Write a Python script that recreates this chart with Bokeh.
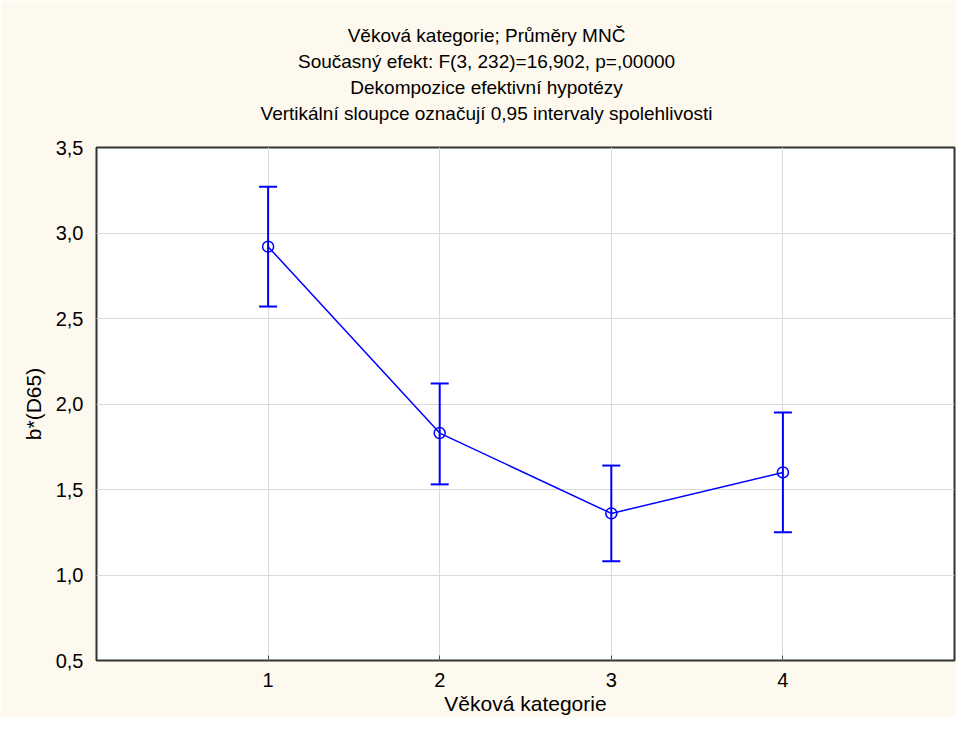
from bokeh.plotting import figure
from bokeh.models import (ColumnDataSource, Whisker, TeeHead, Range1d, FixedTicker,
                          CustomJSTickFormatter, Title)
from bokeh.embed import file_html
from bokeh.resources import INLINE

# ---- data ----
categories = [1, 2, 3, 4]
means = [2.92, 1.83, 1.36, 1.60]
lower = [2.57, 1.53, 1.08, 1.25]
upper = [3.27, 2.12, 1.64, 1.95]
y_ticks = [0.5, 1.0, 1.5, 2.0, 2.5, 3.0, 3.5]
x_ticks = [1, 2, 3, 4]
title_lines = [
    "Věková kategorie; Průměry MNČ",
    "Současný efekt: F(3, 232)=16,902, p=,00000",
    "Dekompozice efektivní hypotézy",
    "Vertikální sloupce označují 0,95 intervaly spolehlivosti",
]
x_label = "Věková kategorie"
y_label = "b*(D65)"

FONT = "Liberation Sans"
BLUE = "#0000FF"
CREAM = "#FEF9EE"
TITLE_PX = 19
TITLE_CENTER = 486

W, H = 956, 717
ML, MT, MR, MB = 96, 147, 2, 57


def text_width(txt, size):
    try:
        from PIL import ImageFont
        f = ImageFont.truetype("LiberationSans-Regular.ttf", size)
        return f.getlength(txt)
    except Exception:
        return len(txt) * size * 0.45


p = figure(width=W, height=H, output_backend="svg", toolbar_location=None,
           x_range=Range1d(0, 5), y_range=Range1d(0.5, 3.5),
           min_border_left=ML, min_border_top=MT, min_border_right=MR, min_border_bottom=MB)
p.title = None
p.border_fill_color = CREAM
p.background_fill_color = "white"
p.outline_line_color = "#333333"
p.outline_line_width = 2

src = ColumnDataSource(dict(x=categories, m=means, lo=lower, hi=upper))

# grids
p.xgrid.grid_line_color = "#DADADA"
p.ygrid.grid_line_color = "#DADADA"
p.xgrid.ticker = FixedTicker(ticks=x_ticks)
p.ygrid.ticker = FixedTicker(ticks=y_ticks)

# axes
xa = p.xaxis[0]
xa.ticker = FixedTicker(ticks=x_ticks)
xa.axis_label = x_label
xa.axis_line_color = None
xa.major_tick_in = 5
xa.major_tick_out = 0
xa.major_tick_line_color = "#555555"
xa.minor_tick_line_color = None
xa.major_label_standoff = 12
xa.axis_label_standoff = 2
xa.major_label_text_font = FONT
xa.major_label_text_font_size = "20px"
xa.major_label_text_color = "black"
xa.axis_label_text_font = FONT
xa.axis_label_text_font_size = "21px"
xa.axis_label_text_font_style = "normal"
xa.axis_label_text_color = "black"

ya = p.yaxis[0]
ya.ticker = FixedTicker(ticks=y_ticks)
ya.formatter = CustomJSTickFormatter(code="return tick.toFixed(1).replace('.', ',');")
ya.axis_label = y_label
ya.axis_line_color = None
ya.major_tick_line_color = None
ya.minor_tick_line_color = None
ya.major_tick_in = 0
ya.major_tick_out = 0
ya.major_label_standoff = 13
ya.axis_label_standoff = 8
ya.major_label_text_font = FONT
ya.major_label_text_font_size = "20px"
ya.major_label_text_color = "black"
ya.axis_label_text_font = FONT
ya.axis_label_text_font_size = "21px"
ya.axis_label_text_font_style = "normal"
ya.axis_label_text_color = "black"

# error bars
wh = Whisker(base="x", lower="lo", upper="hi", source=src,
             line_color=BLUE, line_width=2,
             upper_head=TeeHead(size=18, line_color=BLUE, line_width=2),
             lower_head=TeeHead(size=18, line_color=BLUE, line_width=2))
wh.level = "glyph"
p.add_layout(wh)

# mean line and markers
p.line("x", "m", source=src, line_color=BLUE, line_width=1.5)
p.scatter("x", "m", source=src, marker="circle", size=11,
          fill_color=None, line_color=BLUE, line_width=1.5)

# title lines, stacked above the frame, centred on the whole canvas
p.add_layout(Title(text=" ", text_font=FONT, text_font_size="15px", standoff=3), "above")
for txt in reversed(title_lines):
    w = text_width(txt, TITLE_PX)
    off = (TITLE_CENTER - w / 2) - ML
    p.add_layout(Title(text=txt, align="left", offset=off, standoff=3,
                       text_font=FONT, text_font_size=f"{TITLE_PX}px",
                       text_font_style="normal", text_color="black"), "above")

open("out.html", "w").write(file_html(p, INLINE))
